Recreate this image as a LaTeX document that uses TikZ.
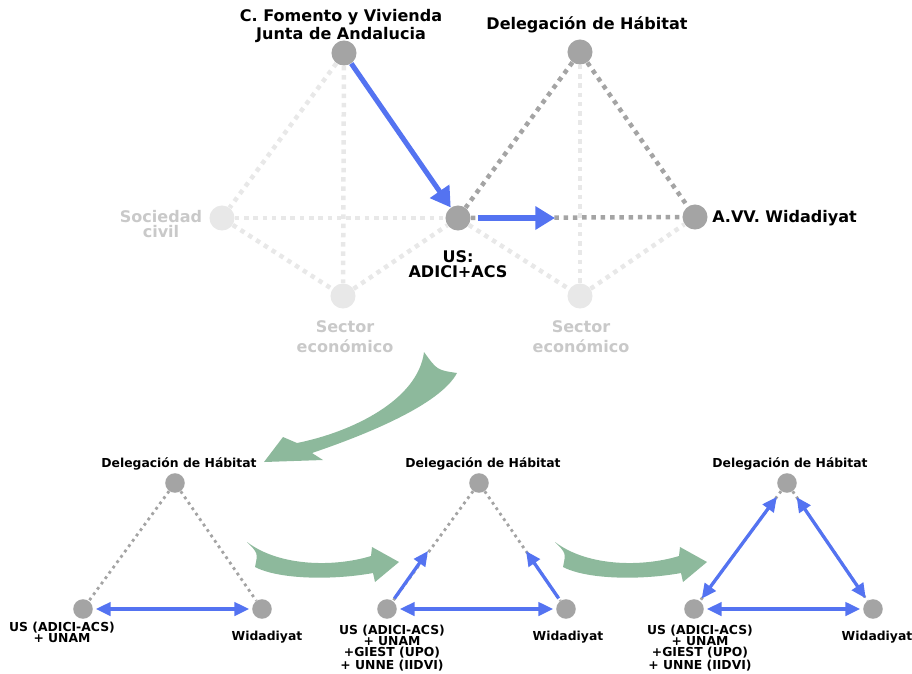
\documentclass[tikz,border=0pt]{standalone}
\usepackage{fontspec}
\setmainfont{DejaVu Sans}
\usetikzlibrary{arrows, arrows.meta}

\definecolor{gris}{HTML}{A4A4A4}
\definecolor{grisclaro}{HTML}{E8E8E8}
\definecolor{textoclaro}{HTML}{C9C9C9}
\definecolor{azul}{HTML}{5473F1}
\definecolor{verde}{HTML}{8DB99C}

\tikzset{
    actor/.style={circle, fill=gris, inner sep=0pt, minimum size=17.8pt},
    actorclaro/.style={actor, fill=grisclaro},
    actorbajo/.style={actor, minimum size=13.9pt},
    vinculo/.style={draw=gris, line width=3.2pt, dash pattern=on 3.2pt off 3.4pt},
    vinculoclaro/.style={vinculo, draw=grisclaro},
    vinculobajo/.style={draw=gris, line width=2pt, dash pattern=on 2pt off 2.7pt},
    relacion/.style={draw=azul, line width=3.6pt, -{Triangle[length=14pt, width=16pt]}},
    relacionbaja/.style={draw=azul, line width=2.35pt, -{Triangle[length=10.5pt, width=9.5pt]}},
    mutua/.style={draw=azul, line width=2.35pt, {Triangle[length=10.5pt, width=9.5pt]}-{Triangle[length=10.5pt, width=9.5pt]}, shorten <=2pt, shorten >=2pt},
    etiqueta/.style={font=\fontsize{11.4}{9.2}\selectfont\bfseries, align=center, inner sep=0pt},
    etiquetaclara/.style={etiqueta, text=textoclaro},
    etiquetabaja/.style={font=\fontsize{8.8}{7.8}\selectfont\bfseries, align=center, inner sep=0pt},
    avance/.style={fill=verde},
}

\begin{document}
\begin{tikzpicture}[x=0.025cm, y=-0.025cm]
\useasboundingbox (0,0) rectangle (912,673);

% esquema superior
\node[actor] (fomento) at (344,53) {};
\node[actorclaro] (sociedad) at (222,218) {};
\node[actor] (us) at (458,218) {};
\node[actorclaro] (sector) at (343,296) {};
\node[actor] (delegacion) at (580,52) {};
\node[actor] (widadiyat) at (695,217) {};
\node[actorclaro] (sectordos) at (580,296) {};
\coordinate (usavance) at (555,218);

\node[etiqueta] (fomentotxt) at (341,26) {C. Fomento y Vivienda\\Junta de Andalucia};
\node[etiqueta, anchor=base] (delegaciontxt) at (587,29) {Delegación de Hábitat};
\node[etiqueta, font=\fontsize{11.4}{10.7}\selectfont\bfseries] (ustxt) at (458,264) {US:\\ADICI+ACS};
\node[etiqueta, anchor=base west] (widadiyattxt) at (712,222) {A.VV. Widadiyat};
\node[etiquetaclara, font=\fontsize{11.4}{10}\selectfont\bfseries] (sociedadtxt) at (161,224) {Sociedad\\civil};
\node[etiquetaclara, font=\fontsize{11.4}{14.2}\selectfont\bfseries] (sectortxt) at (345,337) {Sector\\económico};
\node[etiquetaclara, font=\fontsize{11.4}{14.2}\selectfont\bfseries] (sectordostxt) at (581,337) {Sector\\económico};

\draw[vinculoclaro] (fomento) -- (sociedad);
\draw[vinculoclaro] (fomento) -- (sector);
\draw[vinculoclaro] (sociedad) -- (us);
\draw[vinculoclaro] (sociedad) -- (sector);
\draw[vinculoclaro] (sector) -- (us);
\draw[vinculoclaro] (delegacion) -- (sectordos);
\draw[vinculoclaro] (us) -- (sectordos);
\draw[vinculoclaro] (sectordos) -- (widadiyat);

\draw[vinculo] (delegacion) -- (us);
\draw[vinculo] (delegacion) -- (widadiyat);
\draw[vinculo] (us) -- (widadiyat);

\draw[relacion] (fomento) -- (us);
\draw[relacion, shorten <=5pt] (us) -- (usavance);

% flechas verdes
\fill[avance] (424,352) .. controls (418,400) and (352,432) .. (297,443) -- (283,437) -- (264,462) -- (323,460) -- (312,453) .. controls (365,435) and (440,405) .. (457,373) .. controls (437,370) .. (424,352) -- cycle;
\fill[avance] (247,542) .. controls (280,567) and (335,567) .. (371,556) -- (372,547) -- (399,562) -- (375,582) -- (373,573) .. controls (335,580) and (280,580) .. (255,567) .. controls (258,553) .. (247,542) -- cycle;
\fill[avance, shift={(308,0)}] (247,542) .. controls (280,567) and (335,567) .. (371,556) -- (372,547) -- (399,562) -- (375,582) -- (373,573) .. controls (335,580) and (280,580) .. (255,567) .. controls (258,553) .. (247,542) -- cycle;

% primer triangulo
\node[actorbajo] (delegacionA) at (175,483) {};
\node[actorbajo] (usA) at (83,609) {};
\node[actorbajo] (widadiyatA) at (262,609) {};
\node[etiquetabaja, anchor=base] (delegacionAtxt) at (179,467) {Delegación de Hábitat};
\node[etiquetabaja] (usAtxt) at (62,632) {US (ADICI-ACS)\\+ UNAM};
\node[etiquetabaja, anchor=base] (widadiyatAtxt) at (267,640) {Widadiyat};

\draw[vinculobajo] (delegacionA) -- (usA);
\draw[vinculobajo] (delegacionA) -- (widadiyatA);
\draw[mutua] (usA) -- (widadiyatA);

% segundo triangulo
\node[actorbajo] (delegacionB) at (479,483) {};
\node[actorbajo] (usB) at (387,609) {};
\node[actorbajo] (widadiyatB) at (566,609) {};
\coordinate (usBavance) at (428,551);
\coordinate (widadiyatBavance) at (526,551);
\node[etiquetabaja, anchor=base] (delegacionBtxt) at (483,467) {Delegación de Hábitat};
\node[etiquetabaja] (usBtxt) at (392,648) {US (ADICI-ACS)\\+ UNAM\\+GIEST (UPO)\\+ UNNE (IIDVI)};
\node[etiquetabaja, anchor=base] (widadiyatBtxt) at (568,640) {Widadiyat};

\draw[vinculobajo] (delegacionB) -- (usB);
\draw[vinculobajo] (delegacionB) -- (widadiyatB);
\draw[relacionbaja, shorten <=2pt] (usB) -- (usBavance);
\draw[relacionbaja, shorten <=2pt] (widadiyatB) -- (widadiyatBavance);
\draw[mutua] (usB) -- (widadiyatB);

% tercer triangulo
\node[actorbajo] (delegacionC) at (787,483) {};
\node[actorbajo] (usC) at (694,609) {};
\node[actorbajo] (widadiyatC) at (873,609) {};
\node[etiquetabaja, anchor=base] (delegacionCtxt) at (790,467) {Delegación de Hábitat};
\node[etiquetabaja] (usCtxt) at (700,648) {US (ADICI-ACS)\\+ UNAM\\+GIEST (UPO)\\+ UNNE (IIDVI)};
\node[etiquetabaja, anchor=base] (widadiyatCtxt) at (877,640) {Widadiyat};

\draw[vinculobajo] (delegacionC) -- (usC);
\draw[vinculobajo] (delegacionC) -- (widadiyatC);
\draw[mutua, shorten >=5pt] (usC) -- (delegacionC);
\draw[mutua, shorten <=5pt] (delegacionC) -- (widadiyatC);
\draw[mutua] (usC) -- (widadiyatC);

\end{tikzpicture}
\end{document}
